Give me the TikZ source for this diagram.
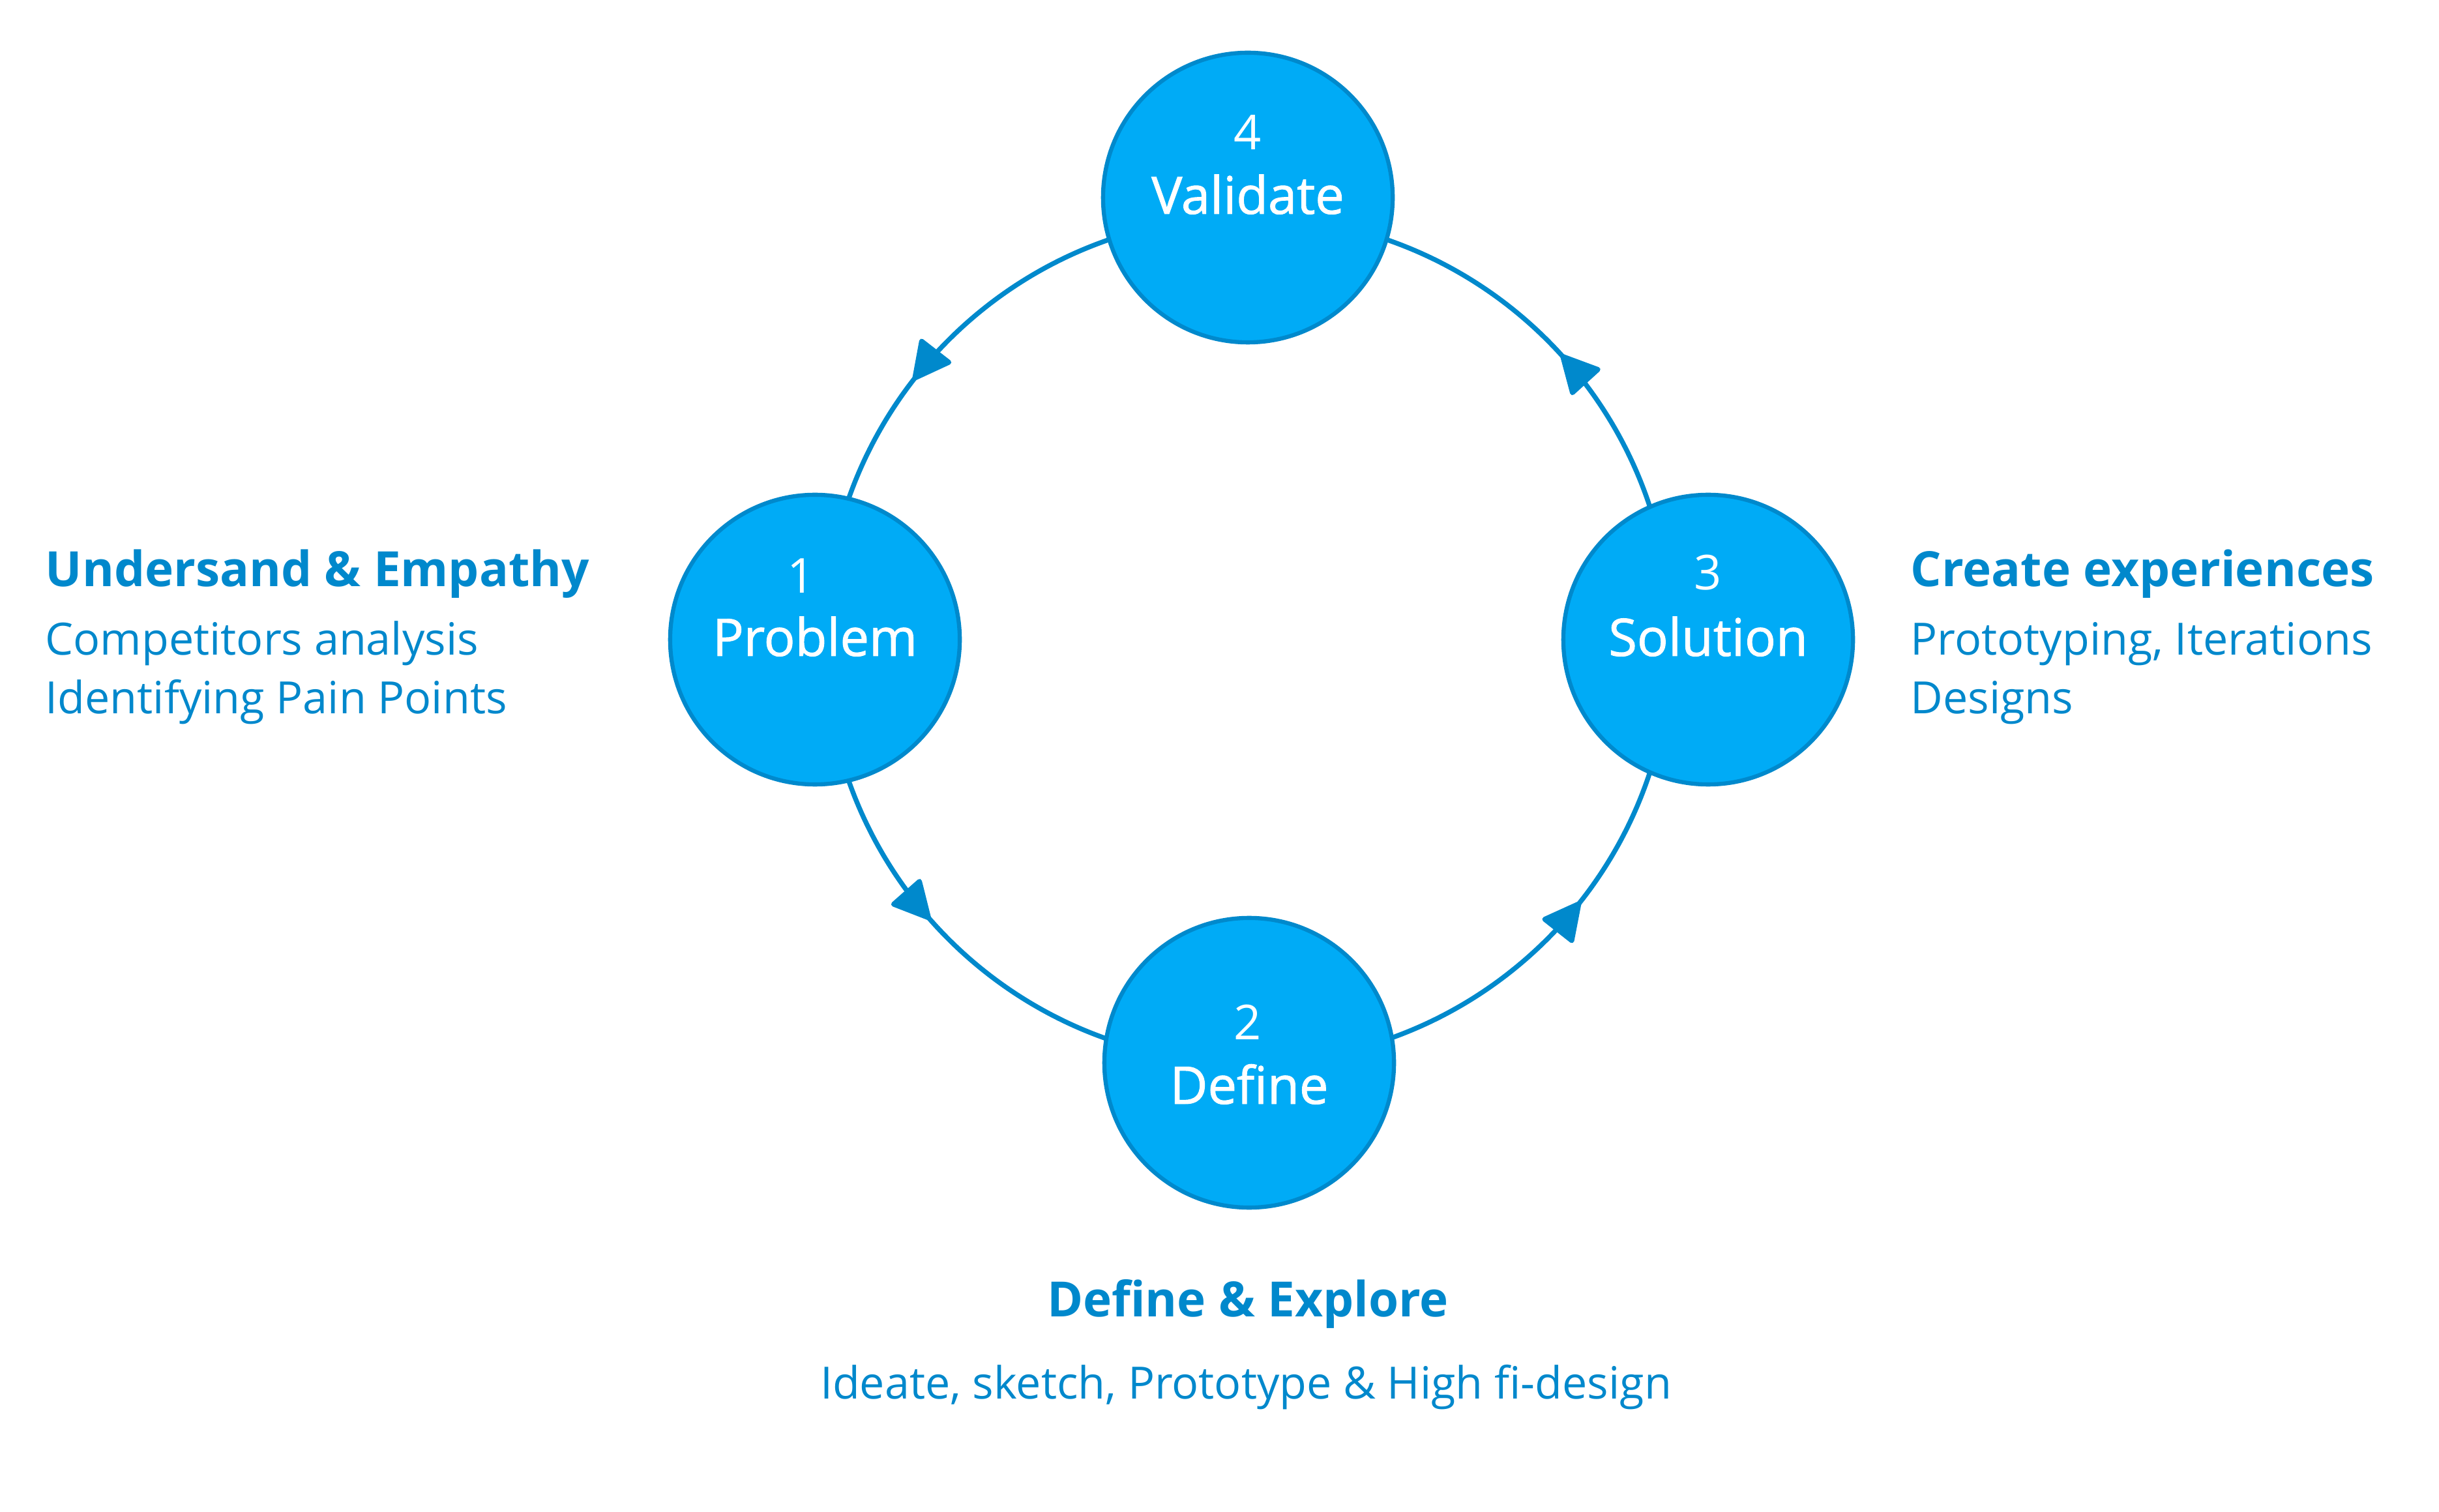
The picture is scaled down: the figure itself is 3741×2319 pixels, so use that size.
\documentclass[tikz,border=0pt]{standalone}
\usepackage{fontspec}
\setmainfont{Open Sans}
\newfontfamily\semib[FakeBold=1.2]{Open Sans}
\usetikzlibrary{arrows.meta,decorations.markings,backgrounds}
\definecolor{cfill}{RGB}{0,171,246}
\definecolor{cline}{RGB}{0,137,204}
\definecolor{ctext}{RGB}{0,136,204}
\tikzset{
  stage/.style={circle,draw=cline,fill=cfill,line width=1.8pt,minimum size=4.44cm,inner sep=0pt},
  stagename/.style={text=white,font=\semib\fontsize{22.6}{26}\selectfont,inner sep=0pt,anchor=base},
  stagenum/.style={text=white,font=\fontsize{21}{24}\selectfont,inner sep=0pt},
  head/.style={text=ctext,font=\fontsize{21.2}{24}\selectfont\bfseries,inner sep=0pt,anchor=base west},
  body/.style={text=ctext,font=\fontsize{19.4}{22}\selectfont,inner sep=0pt,anchor=base west},
  flow/.style={draw=cline,line width=2.1pt,postaction={decorate},
    decoration={markings,mark=at position #1 with {\arrow{Triangle[length=18pt,width=18pt,round]}}}},
}
\begin{document}
\begin{tikzpicture}[x=0.01cm,y=0.01cm]
\useasboundingbox (0,0) rectangle (3741,-2319);
\node[stage] (val) at (1914,-303) {};
\node[stage] (pro) at (1250,-981) {};
\node[stage] (sol) at (2620,-981) {};
\node[stage] (def) at (1916,-1630) {};

% points of the ring on which the connectors run (hidden under the stages)
\coordinate (rt) at (1914,-332);
\coordinate (rl) at (1265,-981);
\coordinate (rb) at (1914,-1630);
\coordinate (rr) at (2563,-981);

\begin{pgfonlayer}{background}
\draw[flow=0.58] (rt) to[bend right=45] (rl);
\draw[flow=0.46] (rl) to[bend right=45] (rb);
\draw[flow=0.575] (rb) to[bend right=45] (rr);
\draw[flow=0.47] (rr) to[bend right=45] (rt);
\end{pgfonlayer}

\node[stagenum] (n4) at (1914,-203) {4};
\node[stagename] (t4) at (1914,-328) {Validate};
\node[stagenum] (n1) at (1229,-883) {1};
\node[stagename] (t1) at (1250,-1006) {Problem};
\node[stagenum] (n3) at (2620,-878) {3};
\node[stagename] (t3) at (2620,-1006) {Solution};
\node[stagenum] (n2) at (1914,-1568) {2};
\node[stagename] (t2) at (1916,-1693) {Define};

\node[head] (h1) at (69,-900) {Undersand \& Empathy};
\node[body] (b1a) at (69,-1005) {Competitors analysis};
\node[body] (b1b) at (69,-1095) {Identifying Pain Points};

\node[head] (h3) at (2930,-900) {Create experiences};
\node[body] (b3a) at (2930,-1005) {Prototyping, Iterations};
\node[body] (b3b) at (2930,-1095) {Designs};

\node[head,anchor=base] (h2) at (1914,-2019) {Define \& Explore};
\node[body,anchor=base] (b2) at (1911,-2145) {Ideate, sketch, Prototype \& High fi-design};
\end{tikzpicture}
\end{document}
